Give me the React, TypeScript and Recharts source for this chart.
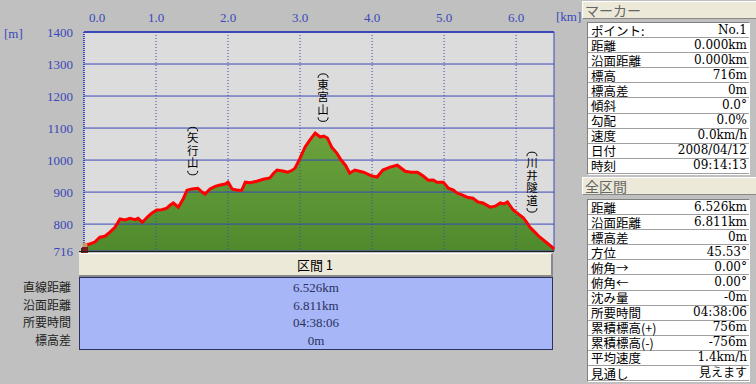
import React from "react";
import {
  ComposedChart,
  Area,
  Line,
  XAxis,
  YAxis,
  CartesianGrid,
  ReferenceLine,
  ReferenceDot,
} from "recharts";

// elevation profile
const distKm = [
  0, 0.08, 0.15, 0.22, 0.29, 0.36, 0.43, 0.5, 0.57, 0.64, 0.71, 0.75, 0.81, 0.88, 0.94,
  1.01, 1.08, 1.15, 1.19, 1.24, 1.31, 1.38, 1.43, 1.5, 1.58, 1.64, 1.68, 1.75, 1.82, 1.89,
  1.96, 2.0, 2.06, 2.14, 2.19, 2.24, 2.31, 2.4, 2.49, 2.58, 2.63, 2.68, 2.76, 2.83, 2.89,
  2.93, 3.0, 3.07, 3.14, 3.21, 3.28, 3.33, 3.38, 3.44, 3.51, 3.57, 3.63, 3.69, 3.76, 3.88,
  4.0, 4.07, 4.15, 4.25, 4.35, 4.46, 4.54, 4.63, 4.71, 4.78, 4.85, 4.9, 4.99, 5.06, 5.13,
  5.18, 5.25, 5.32, 5.4, 5.47, 5.54, 5.64, 5.71, 5.78, 5.83, 5.88, 5.96, 6.03, 6.1, 6.15,
  6.19, 6.26, 6.33, 6.43, 6.5, 6.526,
];
const elevM = [
  733, 738, 744, 759, 762, 775, 790, 816, 813, 818, 814, 818, 806, 822, 834,
  844, 845, 850, 858, 866, 853, 880, 906, 910, 912, 900, 894, 910, 918, 922,
  925, 931, 909, 906, 906, 931, 929, 934, 940, 944, 958, 969, 966, 962, 968,
  975, 1006, 1041, 1064, 1084, 1072, 1075, 1069, 1040, 1022, 1000, 984, 959, 969, 962,
  950, 947, 969, 978, 984, 965, 962, 962, 950, 937, 938, 931, 931, 912, 906,
  897, 891, 884, 881, 869, 866, 853, 856, 866, 863, 869, 844, 832, 820, 805,
  791, 775, 759, 741, 728, 722,
];

const kmTicks = [0, 1, 2, 3, 4, 5, 6];
const mTicks = [716, 800, 900, 1000, 1100, 1200, 1300, 1400];
const kmMax = 6.526;

const placeNames = ["矢行山", "東宮山", "川井隧道"];
const placeKm = [1.51, 3.32, 6.22];
const placeM = [1028, 1195, 931];

const sectionTitle = "区間 1";
const sectionLabels = ["直線距離", "沿面距離", "所要時間", "標高差"];
const sectionValues = ["6.526km", "6.811km", "04:38:06", "0m"];

const markerLabels = ["ポイント:", "距離", "沿面距離", "標高", "標高差", "傾斜", "勾配", "速度", "日付", "時刻"];
const markerValues = ["No.1", "0.000km", "0.000km", "716m", "0m", "0.0°", "0.0%", "0.0km/h", "2008/04/12", "09:14:13"];

const totalLabels = ["距離", "沿面距離", "標高差", "方位", "俯角→", "俯角←", "沈み量", "所要時間", "累積標高(+)", "累積標高(-)", "平均速度", "見通し"];
const totalValues = ["6.526km", "6.811km", "0m", "45.53°", "0.00°", "0.00°", "-0m", "04:38:06", "756m", "-756m", "1.4km/h", "見えます"];

const profile = distKm.map((km, i) => ({ km, m: elevM[i] }));
const places = placeNames.map((name, i) => ({ name, km: placeKm[i], m: placeM[i] }));

const BLUE = "#3a48b8";
const JP = "'Noto Sans CJK JP', sans-serif";
const SERIF = "'Liberation Serif', 'Noto Sans CJK JP', serif";
const PANEL_NUM = "'DejaVu Serif', 'Noto Sans CJK JP', serif";

// km labels sit above the plot; the first one is nudged inside like the original
function KmTick(props: any) {
  const { x, y, payload } = props;
  const nudge = payload.value === 0 ? 13 : 0;
  return (
    <text x={x + nudge} y={y} textAnchor="middle" fill={BLUE} fontSize={13} fontFamily={SERIF}>
      {Number(payload.value).toFixed(1)}
    </text>
  );
}

// vertical place name with bracket arcs above and below
function placeLabel(name: string) {
  return (props: any) => {
    const vb = props.viewBox || {};
    const cx = vb.x + (vb.width || 0) / 2;
    const cy = vb.y + (vb.height || 0) / 2;
    const step = 12.5;
    const paren = 6;
    const total = name.length * step + paren * 2;
    const top = cy - total / 2;
    const bottom = top + total;
    return (
      <g>
        <path
          d={`M${cx - 5},${top + 5} Q${cx - 5},${top + 1} ${cx},${top + 1} Q${cx + 5},${top + 1} ${cx + 5},${top + 5}`}
          fill="none"
          stroke="#000"
          strokeWidth={1}
        />
        <text
          x={cx}
          y={cy}
          textAnchor="middle"
          fontFamily={JP}
          fontSize={11.5}
          letterSpacing={1}
          fill="#000"
          style={{ writingMode: "vertical-rl" }}
        >
          {name}
        </text>
        <path
          d={`M${cx - 5},${bottom - 5} Q${cx - 5},${bottom - 1} ${cx},${bottom - 1} Q${cx + 5},${bottom - 1} ${cx + 5},${bottom - 5}`}
          fill="none"
          stroke="#000"
          strokeWidth={1}
        />
      </g>
    );
  };
}

function InfoTable({ labels, values, top, rowH }: { labels: string[]; values: string[]; top: number; rowH: number }) {
  return (
    <div
      style={{
        position: "absolute",
        left: 587,
        top,
        width: 161,
        background: "#fff",
        borderTop: "1px solid #808080",
        borderLeft: "1px solid #808080",
        borderRight: "1px solid #fff",
        borderBottom: "1px solid #fff",
      }}
    >
      {labels.map((l, i) => (
        <div
          key={l}
          style={{
            height: rowH - 1,
            borderBottom: "1px solid #a0a0a0",
            display: "flex",
            justifyContent: "space-between",
            alignItems: "center",
            padding: "0 2px 0 3px",
            lineHeight: 1,
          }}
        >
          <span style={{ display: "inline-block", height: 13, fontFamily: JP, fontSize: 12.5, lineHeight: "13px", color: "#000" }}>{l}</span>
          <span style={{ display: "inline-block", height: 13, fontFamily: PANEL_NUM, fontSize: 12, lineHeight: "13px", color: "#000" }}>{values[i]}</span>
        </div>
      ))}
    </div>
  );
}

function PanelHeader({ text, top }: { text: string; top: number }) {
  return (
    <div
      style={{
        position: "absolute",
        left: 582,
        top,
        width: 174,
        height: 18,
        background: "#ece9d8",
        borderTop: "1px solid #fff",
        borderLeft: "1px solid #fff",
        borderBottom: "1px solid #888",
        boxSizing: "border-box",
        fontFamily: JP,
        fontSize: 14,
        color: "#666",
        lineHeight: "16px",
        paddingLeft: 2,
      }}
    >
      {text}
    </div>
  );
}

export default function App() {
  return (
    <div style={{ position: "absolute", left: 0, top: 0, width: 756, height: 384, background: "#c0c0c0", overflow: "hidden" }}>
      <div style={{ position: "absolute", left: 0, top: 0 }}>
        <ComposedChart width={580} height={260} data={profile} margin={{ top: 0, right: 26, bottom: 9, left: 0 }}>
          <defs>
            <linearGradient id="hill" x1="0" y1="0" x2="0" y2="1">
              <stop offset="0%" stopColor="#6ba23c" />
              <stop offset="100%" stopColor="#4f8a2d" />
            </linearGradient>
          </defs>
          <CartesianGrid fill="#dcdcdc" horizontal={false} vertical={false} />
          <XAxis
            dataKey="km"
            type="number"
            orientation="top"
            height={32}
            domain={[0, kmMax]}
            ticks={kmTicks}
            axisLine={false}
            tickLine={false}
            tickMargin={4}
            tick={<KmTick />}
          />
          <YAxis
            dataKey="m"
            type="number"
            width={84}
            domain={[716, 1400]}
            ticks={mTicks}
            axisLine={false}
            tickLine={false}
            tickMargin={5}
            tick={{ fill: BLUE, fontSize: 13, fontFamily: SERIF }}
          />
          <Area dataKey="m" type="linear" stroke="none" fill="url(#hill)" fillOpacity={1} isAnimationActive={false} />
          {mTicks.slice(1, -1).map((t) => (
            <ReferenceLine key={"h" + t} y={t} stroke={BLUE} strokeWidth={1} />
          ))}
          {kmTicks.slice(1).map((t) => (
            <ReferenceLine key={"v" + t} x={t} stroke={BLUE} strokeWidth={1} strokeDasharray="1 2" />
          ))}
          <ReferenceLine y={1400} stroke={BLUE} strokeWidth={2} />
          <ReferenceLine y={716} stroke={BLUE} strokeWidth={1} />
          <ReferenceLine x={0} stroke={BLUE} strokeWidth={2} strokeDasharray="1 1" />
          <ReferenceLine x={kmMax} stroke={BLUE} strokeWidth={1} />
          <Line dataKey="m" type="linear" stroke="#ff0000" strokeWidth={3} dot={false} isAnimationActive={false} />
          {places.map((p) => (
            <ReferenceDot key={p.name} x={p.km} y={p.m} r={0} fill="none" stroke="none" label={placeLabel(p.name)} />
          ))}
        </ComposedChart>
      </div>

      {/* axis units */}
      <div style={{ position: "absolute", left: 4, top: 26, fontFamily: SERIF, fontSize: 13, color: BLUE }}>[m]</div>
      <div style={{ position: "absolute", left: 556, top: 9, fontFamily: SERIF, fontSize: 13, color: BLUE }}>[km]</div>

      {/* hiker marker */}
      <svg style={{ position: "absolute", left: 78, top: 242 }} width={14} height={20}>
        <circle cx={7} cy={3} r={2.5} fill="#c79a6a" />
        <rect x={4} y={5} width={6} height={7} fill="#7a1c1c" />
        <rect x={3} y={6} width={2} height={5} fill="#4a2a1a" />
        <rect x={4} y={12} width={2} height={6} fill="#333" />
        <rect x={8} y={12} width={2} height={6} fill="#333" />
      </svg>

      {/* section table */}
      <div style={{ position: "absolute", left: 79, top: 251, width: 475, height: 1, background: "#222" }} />
      <div
        style={{
          position: "absolute",
          left: 79,
          top: 253,
          width: 474,
          height: 24,
          background: "#ece9d8",
          borderTop: "1px solid #fff",
          borderBottom: "2px solid #8a8a8a",
          borderRight: "2px solid #8a8a8a",
          boxSizing: "border-box",
          textAlign: "center",
          fontFamily: JP,
          fontSize: 13,
          lineHeight: "21px",
          color: "#000",
        }}
      >
        {sectionTitle}
      </div>
      <div
        style={{
          position: "absolute",
          left: 79,
          top: 277,
          width: 474,
          height: 73,
          background: "#a6b6f6",
          border: "1px solid #2a3060",
          boxSizing: "border-box",
          paddingTop: 1,
        }}
      >
        {sectionValues.map((v) => (
          <div key={v} style={{ height: 17.7, lineHeight: "17.7px", textAlign: "center", fontFamily: SERIF, fontSize: 13, color: "#2a3060" }}>
            {v}
          </div>
        ))}
      </div>
      <div style={{ position: "absolute", left: 0, top: 278, width: 71, textAlign: "right" }}>
        {sectionLabels.map((l) => (
          <div key={l} style={{ height: 17.7, lineHeight: "17.7px", fontFamily: JP, fontSize: 12, color: "#222" }}>
            {l}
          </div>
        ))}
      </div>

      {/* right info panel */}
      <PanelHeader text="マーカー" top={1} />
      <InfoTable labels={markerLabels} values={markerValues} top={22} rowH={15.1} />
      <PanelHeader text="全区間" top={177} />
      <InfoTable labels={totalLabels} values={totalValues} top={199} rowH={15.1} />
    </div>
  );
}
